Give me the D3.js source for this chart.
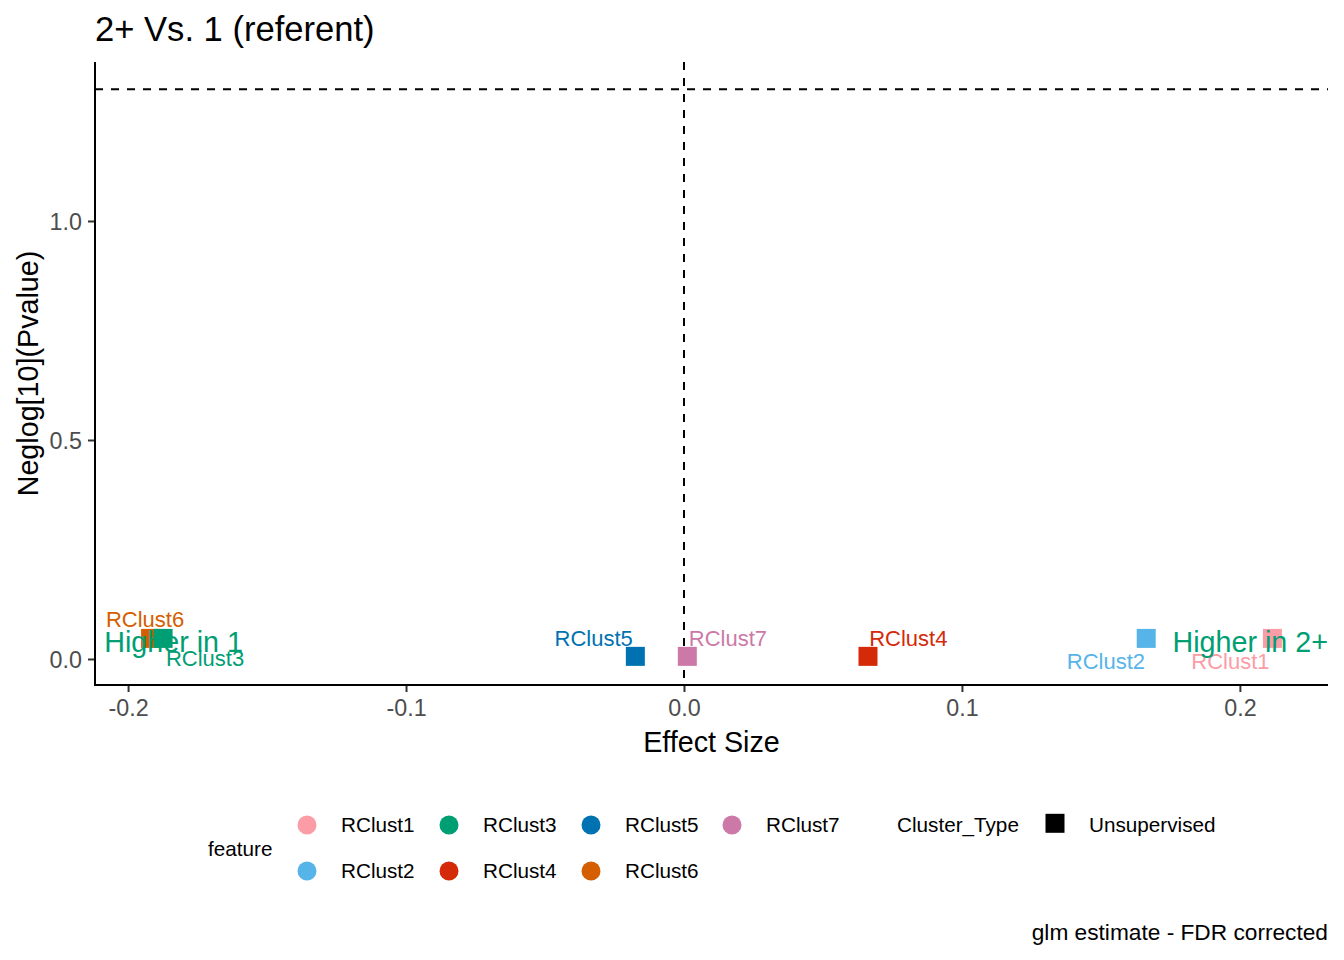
<!DOCTYPE html>
<html><head><meta charset="utf-8">
<script src="https://cdn.jsdelivr.net/npm/d3@7"></script>
<style>body{margin:0;background:#fff}svg{display:block}text{font-family:"Liberation Sans",Arial,sans-serif}</style>
</head><body><svg id="c" width="1344" height="960"></svg>
<script>
// ---- data ----
const features = ["RClust1","RClust2","RClust3","RClust4","RClust5","RClust6","RClust7"];
const effectSize = [0.2117, 0.1663, -0.1874, 0.0662, -0.0175, -0.1919, 0.0012];
const neglogP = [0.047, 0.047, 0.047, 0.006, 0.006, 0.047, 0.006];
const colors = ["#FB9CA6","#56B4E9","#009E73","#D42A0A","#0072B2","#D55E00","#CC79A7"];
const drawOrder = ["RClust1","RClust2","RClust4","RClust5","RClust6","RClust3","RClust7"];
// repelled label positions (data units, text centre / baseline)
const labelX = [0.1966, 0.1518, -0.1723, 0.0807, -0.0325, -0.1939, 0.0158];
const labelY = [-0.023, -0.023, -0.016, 0.030, 0.030, 0.073, 0.030];
const xTicks = [-0.2, -0.1, 0.0, 0.1, 0.2];
const yTicks = [0.0, 0.5, 1.0];
const xDomain = [-0.2119, 0.2317];
const yDomain = [-0.0594, 1.363];
const sigLine = -Math.log10(0.05);
const annotations = [
  {text:"Higher in 1", x:-0.2086, y:0.017, anchor:"start"},
  {text:"Higher in 2+", x:0.2317, y:0.017, anchor:"end"}
];
const legendRow1 = ["RClust1","RClust3","RClust5","RClust7"];
const legendRow2 = ["RClust2","RClust4","RClust6"];
const clusterTypes = ["Unsupervised"];

// ---- drawing ----
const svg = d3.select("#c");
const L=95, R=1328, T=62, B=685;
const x = d3.scaleLinear().domain(xDomain).range([L,R]);
const y = d3.scaleLinear().domain(yDomain).range([B,T]);
const col = d3.scaleOrdinal().domain(features).range(colors);
const data = features.map((f,i)=>({f, x:effectSize[i], y:neglogP[i], lx:labelX[i], ly:labelY[i]}));

// title
svg.append("text").attr("x",95).attr("y",41).attr("font-size",34.6).attr("fill","#000").text("2+ Vs. 1 (referent)");

// reference lines
svg.append("line").attr("x1",L).attr("x2",R).attr("y1",y(sigLine)).attr("y2",y(sigLine))
  .attr("stroke","#000").attr("stroke-width",2).attr("stroke-dasharray","8,8");
svg.append("line").attr("x1",x(0)).attr("x2",x(0)).attr("y1",T).attr("y2",B)
  .attr("stroke","#000").attr("stroke-width",2).attr("stroke-dasharray","8,8");

// points
const S=19;
const ordered = drawOrder.map(f=>data.find(d=>d.f===f));
svg.append("g").selectAll("rect").data(ordered).join("rect")
  .attr("x",d=>x(d.x)-S/2).attr("y",d=>y(d.y)-S/2).attr("width",S).attr("height",S)
  .attr("fill",d=>col(d.f));

// labels
svg.append("g").selectAll("text").data(data).join("text")
  .attr("x",d=>x(d.lx)).attr("y",d=>y(d.ly)).attr("text-anchor","middle")
  .attr("font-size",22).attr("fill",d=>col(d.f)).text(d=>d.f);

// annotations
svg.append("g").selectAll("text").data(annotations).join("text")
  .attr("x",d=>x(d.x)).attr("y",d=>y(d.y)).attr("text-anchor",d=>d.anchor)
  .attr("font-size",28.7).attr("fill","#009E73").text(d=>d.text);

// axes
const xAxis = svg.append("g").attr("transform",`translate(0,${B})`)
  .call(d3.axisBottom(x).tickValues(xTicks).tickFormat(d3.format(".1f")).tickSize(7).tickPadding(6));
const yAxis = svg.append("g").attr("transform",`translate(${L},0)`)
  .call(d3.axisLeft(y).tickValues(yTicks).tickFormat(d3.format(".1f")).tickSize(7).tickPadding(6));
[xAxis,yAxis].forEach(a=>{
  a.select(".domain").remove();
  a.selectAll(".tick line").attr("stroke","#333333").attr("stroke-width",2);
  a.selectAll(".tick text").attr("fill","#4D4D4D").attr("font-size",23.3)
   .attr("font-family","'Liberation Sans',Arial,sans-serif");
});
xAxis.selectAll(".tick text").text(d=>d3.format(".1f")(d).replace("−","-")).attr("dy",null).attr("y",31);
yAxis.selectAll(".tick text").text(d=>d3.format(".1f")(d).replace("−","-")).attr("dy",null).attr("y",8.3);
svg.append("line").attr("x1",L).attr("x2",L).attr("y1",T).attr("y2",B+1).attr("stroke","#000").attr("stroke-width",2);
svg.append("line").attr("x1",L-1).attr("x2",R).attr("y1",B).attr("y2",B).attr("stroke","#000").attr("stroke-width",2);

// axis titles
svg.append("text").attr("x",(L+R)/2).attr("y",752).attr("text-anchor","middle").attr("font-size",28.7).text("Effect Size");
svg.append("text").attr("transform",`translate(38,${(T+B)/2}) rotate(-90)`).attr("text-anchor","middle")
  .attr("font-size",28.7).text("Neglog[10](Pvalue)");

// legend: feature
const lg = svg.append("g");
lg.append("text").attr("x",208).attr("y",856).attr("font-size",20.7).text("feature");
const colX = [307, 449, 591, 732];
[legendRow1, legendRow2].forEach((row,ri)=>{
  const cy = ri===0 ? 825 : 871;
  row.forEach((f,ci)=>{
    lg.append("circle").attr("cx",colX[ci]).attr("cy",cy).attr("r",9.5).attr("fill",col(f));
    lg.append("text").attr("x",colX[ci]+34).attr("y",cy+7.4).attr("font-size",20.7).text(f);
  });
});
// legend: Cluster_Type
lg.append("text").attr("x",897).attr("y",832.4).attr("font-size",20.7).text("Cluster_Type");
clusterTypes.forEach((t,i)=>{
  lg.append("rect").attr("x",1055-9.5).attr("y",823.3-9.5).attr("width",19).attr("height",19).attr("fill","#000");
  lg.append("text").attr("x",1089).attr("y",832.4).attr("font-size",20.7).text(t);
});

// caption
svg.append("text").attr("x",1328).attr("y",940).attr("text-anchor","end").attr("font-size",22.7).text("glm estimate - FDR corrected");
</script></body></html>
